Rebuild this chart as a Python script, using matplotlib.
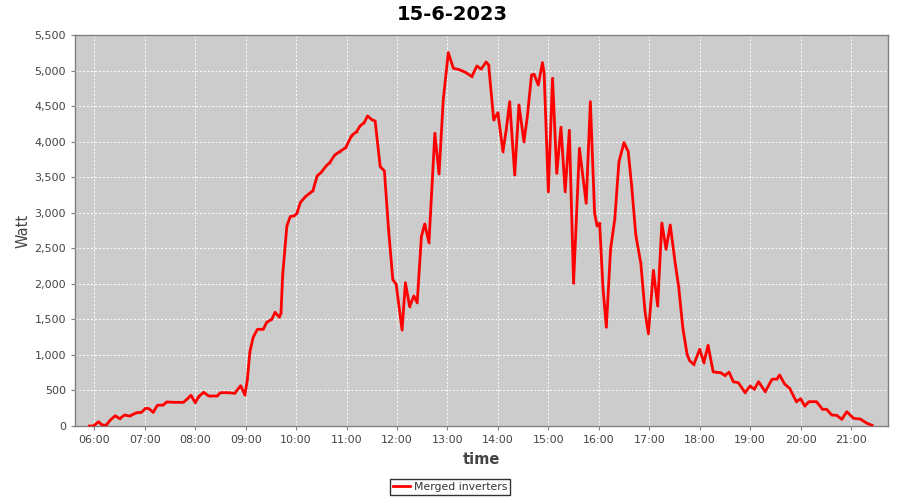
import matplotlib
matplotlib.use("Agg")
import matplotlib.pyplot as plt
import matplotlib.dates as mdates
import matplotlib.ticker as mticker
from datetime import datetime

times = ["05:54","05:59","06:05","06:09","06:14","06:19","06:25","06:30","06:36","06:42",
         "06:50","06:56","07:01","07:05","07:10","07:15","07:22","07:26","07:36","07:46",
         "07:50","07:55","08:00","08:04","08:10","08:16","08:26","08:30","08:39","08:47",
         "08:54","08:59","09:02","09:05","09:09","09:14","09:21","09:25","09:31","09:35",
         "09:40","09:42","09:44","09:49","09:53","09:58","10:01","10:05","10:11","10:17",
         "10:20","10:25","10:30","10:36","10:40","10:46","10:52","10:59","11:06","11:12",
         "11:16","11:21","11:25","11:30","11:34","11:40","11:45","11:50","11:55","11:59",
         "12:06","12:10","12:15","12:20","12:24","12:29","12:33","12:38","12:45","12:50",
         "12:55","13:01","13:07","13:15","13:22","13:29","13:35","13:40","13:46","13:49",
         "13:55","14:00","14:06","14:10","14:14","14:20","14:25","14:31","14:35","14:40",
         "14:43","14:48","14:53","14:55","15:00","15:05","15:10","15:15","15:20","15:25",
         "15:30","15:37","15:45","15:50","15:55","15:58","16:01","16:05","16:09","16:14",
         "16:19","16:24","16:30","16:35","16:39","16:44","16:50","16:55","16:59","17:05",
         "17:10","17:15","17:20","17:25","17:31","17:35","17:40","17:45","17:48","17:53",
         "18:00","18:05","18:10","18:16","18:20","18:25","18:30","18:35","18:40","18:46",
         "18:54","19:00","19:05","19:10","19:18","19:26","19:32","19:35","19:41","19:47",
         "19:55","20:00","20:05","20:10","20:19","20:26","20:31","20:37","20:43","20:49",
         "20:55","20:59","21:03","21:11","21:19","21:25"]

watts = [0, 0, 60, 15, 10, 84, 145, 103, 155, 140,
         187, 192, 249, 244, 192, 291, 295, 338, 333, 333,
         375, 432, 328, 412, 474, 422, 422, 469, 469, 460,
         567, 436, 647, 1045, 1250, 1360, 1360, 1459, 1500, 1600,
         1529, 1585, 2125, 2814, 2945, 2959, 2992, 3142, 3226, 3283,
         3311, 3518, 3570, 3663, 3705, 3813, 3860, 3916, 4085, 4141,
         4221, 4268, 4362, 4310, 4290, 3648, 3590, 2758, 2060, 1995,
         1351, 2016, 1679, 1829, 1735, 2664, 2842, 2579, 4118, 3546,
         4587, 5252, 5033, 5009, 4971, 4915, 5065, 5019, 5120, 5080,
         4305, 4408, 3860, 4174, 4563, 3532, 4517, 4000, 4352, 4938,
         4948, 4798, 5112, 4962, 3297, 4892, 3555, 4203, 3297, 4160,
         2008, 3907, 3133, 4563, 2993, 2814, 2852, 1937, 1390, 2486,
         2908, 3719, 3986, 3860, 3391, 2688, 2289, 1608, 1300, 2190,
         1688, 2855, 2486, 2828, 2280, 1960, 1375, 1010, 919, 865,
         1079, 891, 1135, 764, 755, 750, 710, 757, 623, 609,
         469, 563, 516, 623, 483, 657, 661, 718, 591, 530,
         342, 384, 281, 342, 342, 235, 235, 155, 150, 94,
         201, 155, 108, 98, 38, 10]

title = "15-6-2023"
series_name = "Merged inverters"
x_label = "time"
y_label = "Watt"
day = "2023-06-15"

x = [datetime.strptime(day + " " + t, "%Y-%m-%d %H:%M") for t in times]

fig = plt.figure(figsize=(9, 5), dpi=100)
ax = fig.add_axes([75/900, 1 - 426/500, (888-75)/900, (426-35)/500])
ax.set_facecolor("#cccccc")

ax.plot(x, watts, color="#ff0000", lw=2.0, marker="o", ms=1.2, mew=0,
        solid_joinstyle="round", label=series_name, zorder=3)

ax.set_ylim(0, 5500)
ax.set_xlim(datetime.strptime(day + " 05:37", "%Y-%m-%d %H:%M"),
            datetime.strptime(day + " 21:44", "%Y-%m-%d %H:%M"))
ax.yaxis.set_major_locator(mticker.MultipleLocator(500))
ax.yaxis.set_major_formatter(mticker.FuncFormatter(lambda v, p: f"{int(v):,}"))
ax.xaxis.set_major_locator(mdates.HourLocator())
ax.xaxis.set_major_formatter(mdates.DateFormatter("%H:%M"))

ax.grid(True, color="white", ls=(0, (2, 2)), lw=0.7)
ax.set_axisbelow(True)
for s in ax.spines.values():
    s.set_color("#808080")
    s.set_linewidth(1.0)
ax.tick_params(axis="both", colors="#808080", labelcolor="#444444",
               labelsize=8, length=3, width=0.8)

ax.set_xlabel(x_label, fontsize=10.5, fontweight="bold", color="#444444", labelpad=5)
ax.set_ylabel(y_label, fontsize=10.5, color="#444444", labelpad=3)
fig.text(0.503, 0.972, title, ha="center", va="center", fontsize=14, fontweight="bold")

leg = fig.legend(loc="center", bbox_to_anchor=(0.5, 0.026), frameon=True,
                 fancybox=False, fontsize=7.8, handlelength=1.6, handletextpad=0.3,
                 borderpad=0.3, borderaxespad=0)
leg.get_frame().set_edgecolor("black")
leg.get_frame().set_linewidth(1.0)
for t in leg.get_texts():
    t.set_color("#333333")

fig.savefig("out.png", dpi=100)
